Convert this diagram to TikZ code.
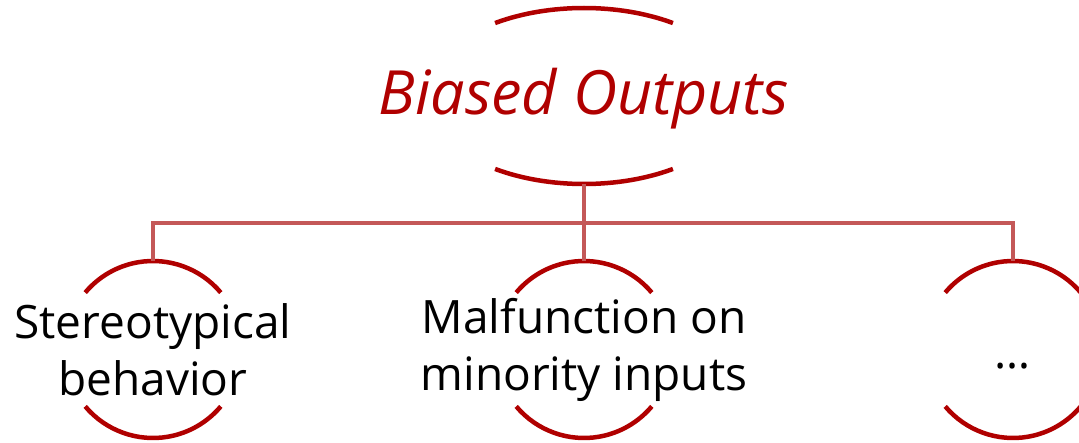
\documentclass[tikz,border=0pt]{standalone}
\usepackage{fontspec}
\setmainfont{Open Sans}
\usetikzlibrary{shapes.geometric}
\definecolor{rimred}{RGB}{176,0,0}
\definecolor{linkred}{RGB}{196,88,88}
\tikzset{
  hub/.style={ellipse,minimum width=318pt,minimum height=176pt,inner sep=0pt,outer sep=0pt},
  ring/.style={circle,minimum size=177pt,inner sep=0pt,outer sep=0pt},
  rim/.style={line width=4.5pt,color=rimred},
  link/.style={line width=4pt,color=linkred},
  leaf/.style={font=\fontsize{46}{57}\selectfont,align=center,inner sep=0pt},
}
\begin{document}
\begin{tikzpicture}[x=1pt,y=1pt]
			\useasboundingbox (0,0) rectangle (1079,442);

			\node[hub] (biased) at (584,346) {};
			\node[font=\fontsize{61}{72}\selectfont\itshape,text=rimred,inner sep=0pt] (biased-text) at ([yshift=-3]biased.center) {Biased Outputs};

			\node[ring] (stereo) at (153,92.5) {};
			\node[ring] (malf) at (584,92.5) {};
			\node[ring] (more) at (1013,92.5) {};
			\node[leaf] (stereo-text) at (stereo) {Stereotypical\\behavior};
			\node[leaf] (malf-text) at (malf) {Malfunction on\\minority inputs};
			\node[leaf] (more-text) at ([yshift=-17]more.center) {…};

			\draw[rim] ([shift={(56:159 and 88)}]biased.center) arc[start angle=56,end angle=124,x radius=159,y radius=88];
			\draw[rim] ([shift={(236:159 and 88)}]biased.center) arc[start angle=236,end angle=304,x radius=159,y radius=88];
			\foreach \n in {stereo,malf,more} {
				\draw[rim] (\n.40) arc[start angle=40,end angle=140,radius=88.5];
				\draw[rim] (\n.220) arc[start angle=220,end angle=320,radius=88.5];
			}

			\coordinate (fork) at (584,219);
			\draw[link] (biased.south) -- (malf.north);
			\draw[link] (stereo.north) |- (fork) -| (more.north);
		\end{tikzpicture}
\end{document}
